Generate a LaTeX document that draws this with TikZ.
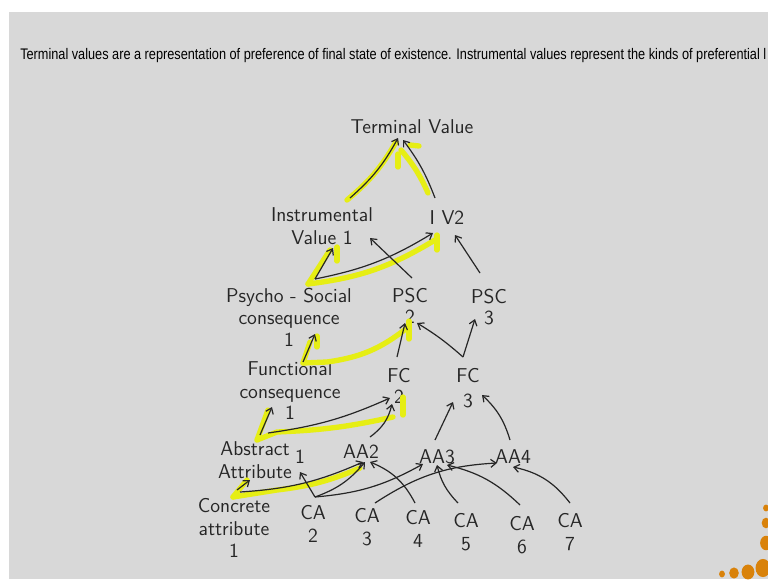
\documentclass[tikz,border=0pt]{standalone}
\usepackage{fontspec}
\newfontfamily\headfont[FakeStretch=0.83]{Liberation Sans}
\usetikzlibrary{arrows.meta}
\definecolor{slidegray}{RGB}{216,216,216}
\definecolor{marker}{RGB}{230,238,20}
\definecolor{dotorange}{RGB}{217,130,10}
\tikzset{
  hand/.style={font=\sffamily\fontsize{15}{17}\selectfont, inner sep=0pt, align=center, text=black!85},
  link/.style={-{Straight Barb[length=4pt,width=6pt]}, line width=0.9pt, black!85},
  glow/.style={line width=4pt, marker, line cap=round, line join=round},
}
\begin{document}
\begin{tikzpicture}[x=0.75pt,y=-0.75pt]
    \useasboundingbox (0,0) rectangle (768,579);
    \clip (0,0) rectangle (768,579);

    % Slide
    \fill[slidegray] (9,12) rectangle (768,579);
    \node[anchor=base west, inner sep=0pt, font=\headfont\fontsize{11.5}{13}\selectfont] (head) at (20,59)
        {Terminal values are a representation of preference of final state of existence. Instrumental values represent the kinds of preferential l};

    % Nodes
    \node[hand] (tv) at (412,127) {Terminal Value};
    \node[hand] (iv1) at (322,226) {Instrumental\\Value 1};
    \node[hand] (iv2) at (447,218) {I V2};
    \node[hand] (psc1) at (289,317) {Psycho - Social\\consequence\\[-1pt]1};
    \node[hand] (psc2) at (410,306) {PSC\\[-1pt]2};
    \node[hand] (psc3) at (489,307) {PSC\\[-1pt]3};
    \node[hand] (fc1) at (290,391) {Functional\\consequence\\[-1pt]1};
    \node[hand] (fc2) at (399,386) {FC\\[-1pt]2};
    \node[hand] (fc3) at (468,388) {FC\\[2pt]3};
    \node[hand] (aa1) at (255,460) {Abstract\\Attribute};
    \node[hand] (aa1n) at (300,457) {1};
    \node[hand] (aa2) at (361,452) {AA2};
    \node[hand] (aa3) at (437,457) {AA3};
    \node[hand] (aa4) at (513,457) {AA4};
    \node[hand] (ca1) at (234,528) {Concrete\\attribute\\1};
    \node[hand] (ca2) at (313,524) {CA\\2};
    \node[hand] (ca3) at (367,527) {CA\\3};
    \node[hand] (ca4) at (418,529) {CA\\4};
    \node[hand] (ca5) at (466,532) {CA\\5};
    \node[hand] (ca6) at (522,535) {CA\\6};
    \node[hand] (ca7) at (570,532) {CA\\7};

    % Highlights
    \draw[glow] ([shift={(25,-26)}]iv1.center) to[bend right=10] ([shift={(-16,15)}]tv.center);
    \draw[glow] ([shift={(-19,-25)}]iv2.center) to[bend right=8] ([shift={(-11,23)}]tv.center);
    \draw[glow] ([shift={(-14,27)}]tv.center) -- ([shift={(-14,40)}]tv.center);
    \draw[glow] ([shift={(-2,18)}]tv.center) -- ([shift={(7,19)}]tv.center);
    \draw[glow] ([shift={(19,-33)}]psc1.center) -- ([shift={(8,24)}]iv1.center);
    \draw[glow] ([shift={(15,21)}]iv1.center) -- ([shift={(15,35)}]iv1.center);
    \draw[glow] ([shift={(19,-33)}]psc1.center) to[bend right=12] ([shift={(-12,22)}]iv2.center);
    \draw[glow] ([shift={(-10,17)}]iv2.center) -- ([shift={(-10,32)}]iv2.center);
    \draw[glow] ([shift={(13,-28)}]fc1.center) -- ([shift={(21,25)}]psc1.center);
    \draw[glow] ([shift={(28,19)}]psc1.center) -- ([shift={(28,30)}]psc1.center);
    \draw[glow] ([shift={(13,-28)}]fc1.center) -- ([shift={(37,-29)}]fc1.center)
        to[bend right=15] ([shift={(-3,22)}]psc2.center);
    \draw[glow] ([shift={(-1,15)}]psc2.center) -- ([shift={(-1,33)}]psc2.center);
    \draw[glow] ([shift={(2,-20)}]aa1.center) -- ([shift={(-22,19)}]fc1.center);
    \draw[glow] ([shift={(2,-20)}]aa1.center) -- ([shift={(22,-28)}]aa1.center)
        to[bend right=5] ([shift={(-6,31)}]fc2.center);
    \draw[glow] ([shift={(4,11)}]fc2.center) -- ([shift={(4,29)}]fc2.center);
    \draw[glow] ([shift={(-1,-31)}]ca1.center) -- ([shift={(-8,20)}]aa1.center);
    \draw[glow] ([shift={(-1,-31)}]ca1.center) -- ([shift={(43,-38)}]ca1.center)
        to[bend right=8] ([shift={(-1,16)}]aa2.center);

    % Links
    \draw[link] ([shift={(28,-28)}]iv1.center) to[bend right=10] ([shift={(-14,11)}]tv.center);
    \draw[link] ([shift={(-12,-20)}]iv2.center) to[bend right=8] ([shift={(-9,13)}]tv.center);
    \draw[link] ([shift={(26,-38)}]psc1.center) -- ([shift={(11,22)}]iv1.center);
    \draw[link] ([shift={(26,-38)}]psc1.center) to[bend right=10] ([shift={(-14,15)}]iv2.center);
    \draw[link] ([shift={(2,-28)}]psc2.center) -- ([shift={(48,12)}]iv1.center);
    \draw[link] ([shift={(-9,-34)}]psc3.center) -- ([shift={(8,17)}]iv2.center);
    \draw[link] ([shift={(13,-29)}]fc1.center) -- ([shift={(26,17)}]psc1.center);
    \draw[link] ([shift={(-2,-29)}]fc2.center) -- ([shift={(-5,17)}]psc2.center);
    \draw[link] ([shift={(-5,-31)}]fc3.center) to[bend right=5] ([shift={(7,17)}]psc2.center);
    \draw[link] ([shift={(-5,-31)}]fc3.center) -- ([shift={(-14,12)}]psc3.center);
    \draw[link] ([shift={(5,-25)}]aa1.center) -- ([shift={(-18,16)}]fc1.center);
    \draw[link] ([shift={(13,-27)}]aa1.center) to[bend right=8] ([shift={(-9,12)}]fc2.center);
    \draw[link] ([shift={(9,-15)}]aa2.center) to[bend right=20] ([shift={(-7,18)}]fc2.center);
    \draw[link] ([shift={(-2,-17)}]aa3.center) -- ([shift={(-15,14)}]fc3.center);
    \draw[link] ([shift={(-3,-17)}]aa4.center) to[bend right=15] ([shift={(14,7)}]fc3.center);
    \draw[link] ([shift={(3,-38)}]ca1.center) -- ([shift={(-5,20)}]aa1.center);
    \draw[link] ([shift={(6,-36)}]ca1.center) to[bend right=10] ([shift={(2,10)}]aa2.center);
    \draw[link] ([shift={(2,-27)}]ca2.center) -- ([shift={(0,15)}]aa1n.center);
    \draw[link] ([shift={(2,-27)}]ca2.center) to[bend right=15] ([shift={(4,10)}]aa2.center);
    \draw[link] ([shift={(2,-27)}]ca2.center) to[bend right=12] ([shift={(-14,7)}]aa3.center);
    \draw[link] ([shift={(8,-24)}]ca3.center) to[bend left=15] ([shift={(-16,6)}]aa4.center);
    \draw[link] ([shift={(-3,-26)}]ca4.center) to[bend right=20] ([shift={(9,10)}]aa2.center);
    \draw[link] ([shift={(-8,-29)}]ca5.center) to[bend left=15] ([shift={(0,8)}]aa3.center);
    \draw[link] ([shift={(-2,-30)}]ca6.center) to[bend right=15] ([shift={(10,8)}]aa3.center);
    \draw[link] ([shift={(0,-29)}]ca7.center) to[bend right=20] ([shift={(0,10)}]aa4.center);

    % Dots
    \fill[dotorange] (722,574) ellipse (2.2pt and 2.6pt);
    \fill[dotorange] (734,573) ellipse (3.6pt and 4.2pt);
    \fill[dotorange] (748,572) ellipse (4.8pt and 5.6pt);
    \fill[dotorange] (763,568) ellipse (5.6pt and 6.8pt);
    \fill[dotorange] (766,508) ellipse (2.2pt and 2.6pt);
    \fill[dotorange] (766,523) ellipse (3.2pt and 4pt);
    \fill[dotorange] (766,543) ellipse (4.4pt and 5.4pt);
\end{tikzpicture}
\end{document}
